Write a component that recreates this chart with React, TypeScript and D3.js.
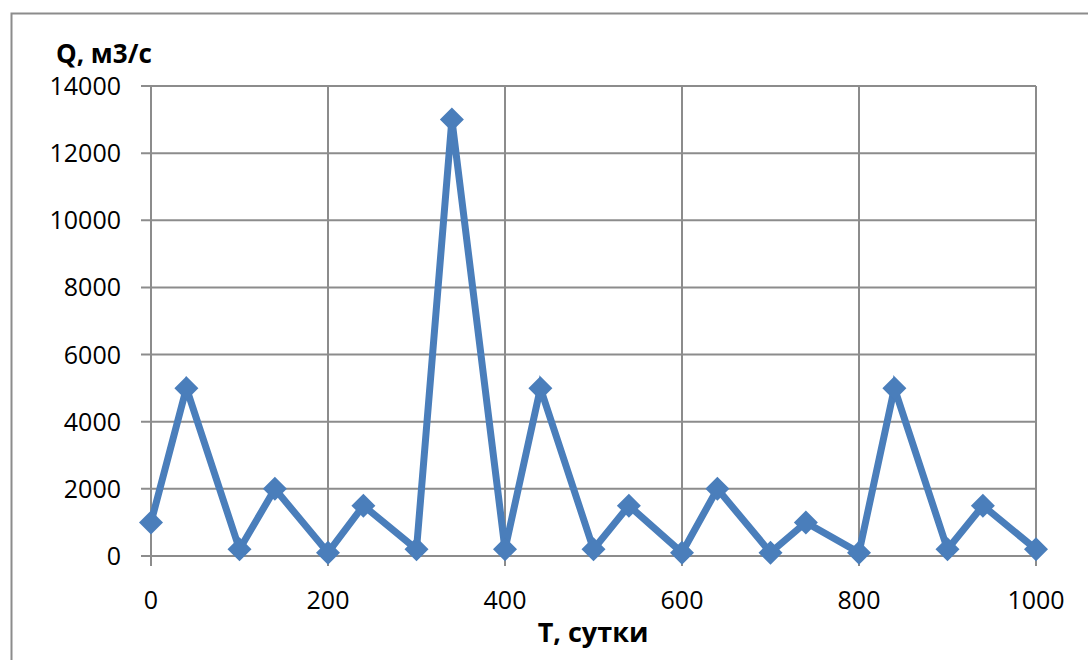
import React from "react";
import * as d3 from "d3";

const days = [0, 40, 100, 140, 200, 240, 300, 340, 400, 440, 500, 540, 600, 640, 700, 740, 800, 840, 900, 940, 1000];
const flow = [1000, 5000, 200, 2000, 100, 1500, 200, 13000, 200, 5000, 200, 1500, 100, 2000, 100, 1000, 100, 5000, 200, 1500, 200];
const xTicks = [0, 200, 400, 600, 800, 1000];
const yTicks = [0, 2000, 4000, 6000, 8000, 10000, 12000, 14000];
const yTitle = "Q, м3/с";
const xTitle = "T, сутки";

export default function App() {
  const W = 1088, H = 660;
  const x = d3.scaleLinear().domain([0, 1000]).range([151, 1036]);
  const y = d3.scaleLinear().domain([0, 14000]).range([556, 86]);
  const pts = days.map((d, i) => [x(d), y(flow[i])] as [number, number]);
  const line = d3.line()(pts) || "";
  const grid = "#8c8c8c";
  const blue = "#4a7ebb";
  const font = "'Open Sans', sans-serif";
  const r = 12;
  return (
    <svg width={W} height={H} style={{ position: "absolute", left: 0, top: 0 }}>
      <rect x={0} y={0} width={W} height={H} fill="#fff" />
      <rect x={11.5} y={13.5} width={W} height={H} fill="none" stroke={grid} strokeWidth={2} />
      {yTicks.map((t) => (
        <g key={"y" + t}>
          <line x1={141} x2={x(1000)} y1={y(t)} y2={y(t)} stroke={grid} strokeWidth={2} />
          <text x={121} y={y(t)} dy="0.36em" textAnchor="end" fontFamily={font} fontSize={25} fill="#000">{t}</text>
        </g>
      ))}
      {xTicks.map((t) => (
        <g key={"x" + t}>
          <line x1={x(t)} x2={x(t)} y1={y(14000)} y2={566} stroke={grid} strokeWidth={2} />
          <text x={x(t)} y={609} textAnchor="middle" fontFamily={font} fontSize={25} fill="#000">{t}</text>
        </g>
      ))}
      <path d={line} fill="none" stroke={blue} strokeWidth={7} strokeLinejoin="miter" />
      {pts.map(([px, py], i) => (
        <path key={i} d={`M${px},${py - r}L${px + r},${py}L${px},${py + r}L${px - r},${py}Z`} fill={blue} />
      ))}
      <text x={56} y={63} fontFamily={font} fontWeight="bold" fontSize={26} fill="#000">{yTitle}</text>
      <text x={593} y={642} textAnchor="middle" fontFamily={font} fontWeight="bold" fontSize={27} fill="#000">{xTitle}</text>
    </svg>
  );
}
